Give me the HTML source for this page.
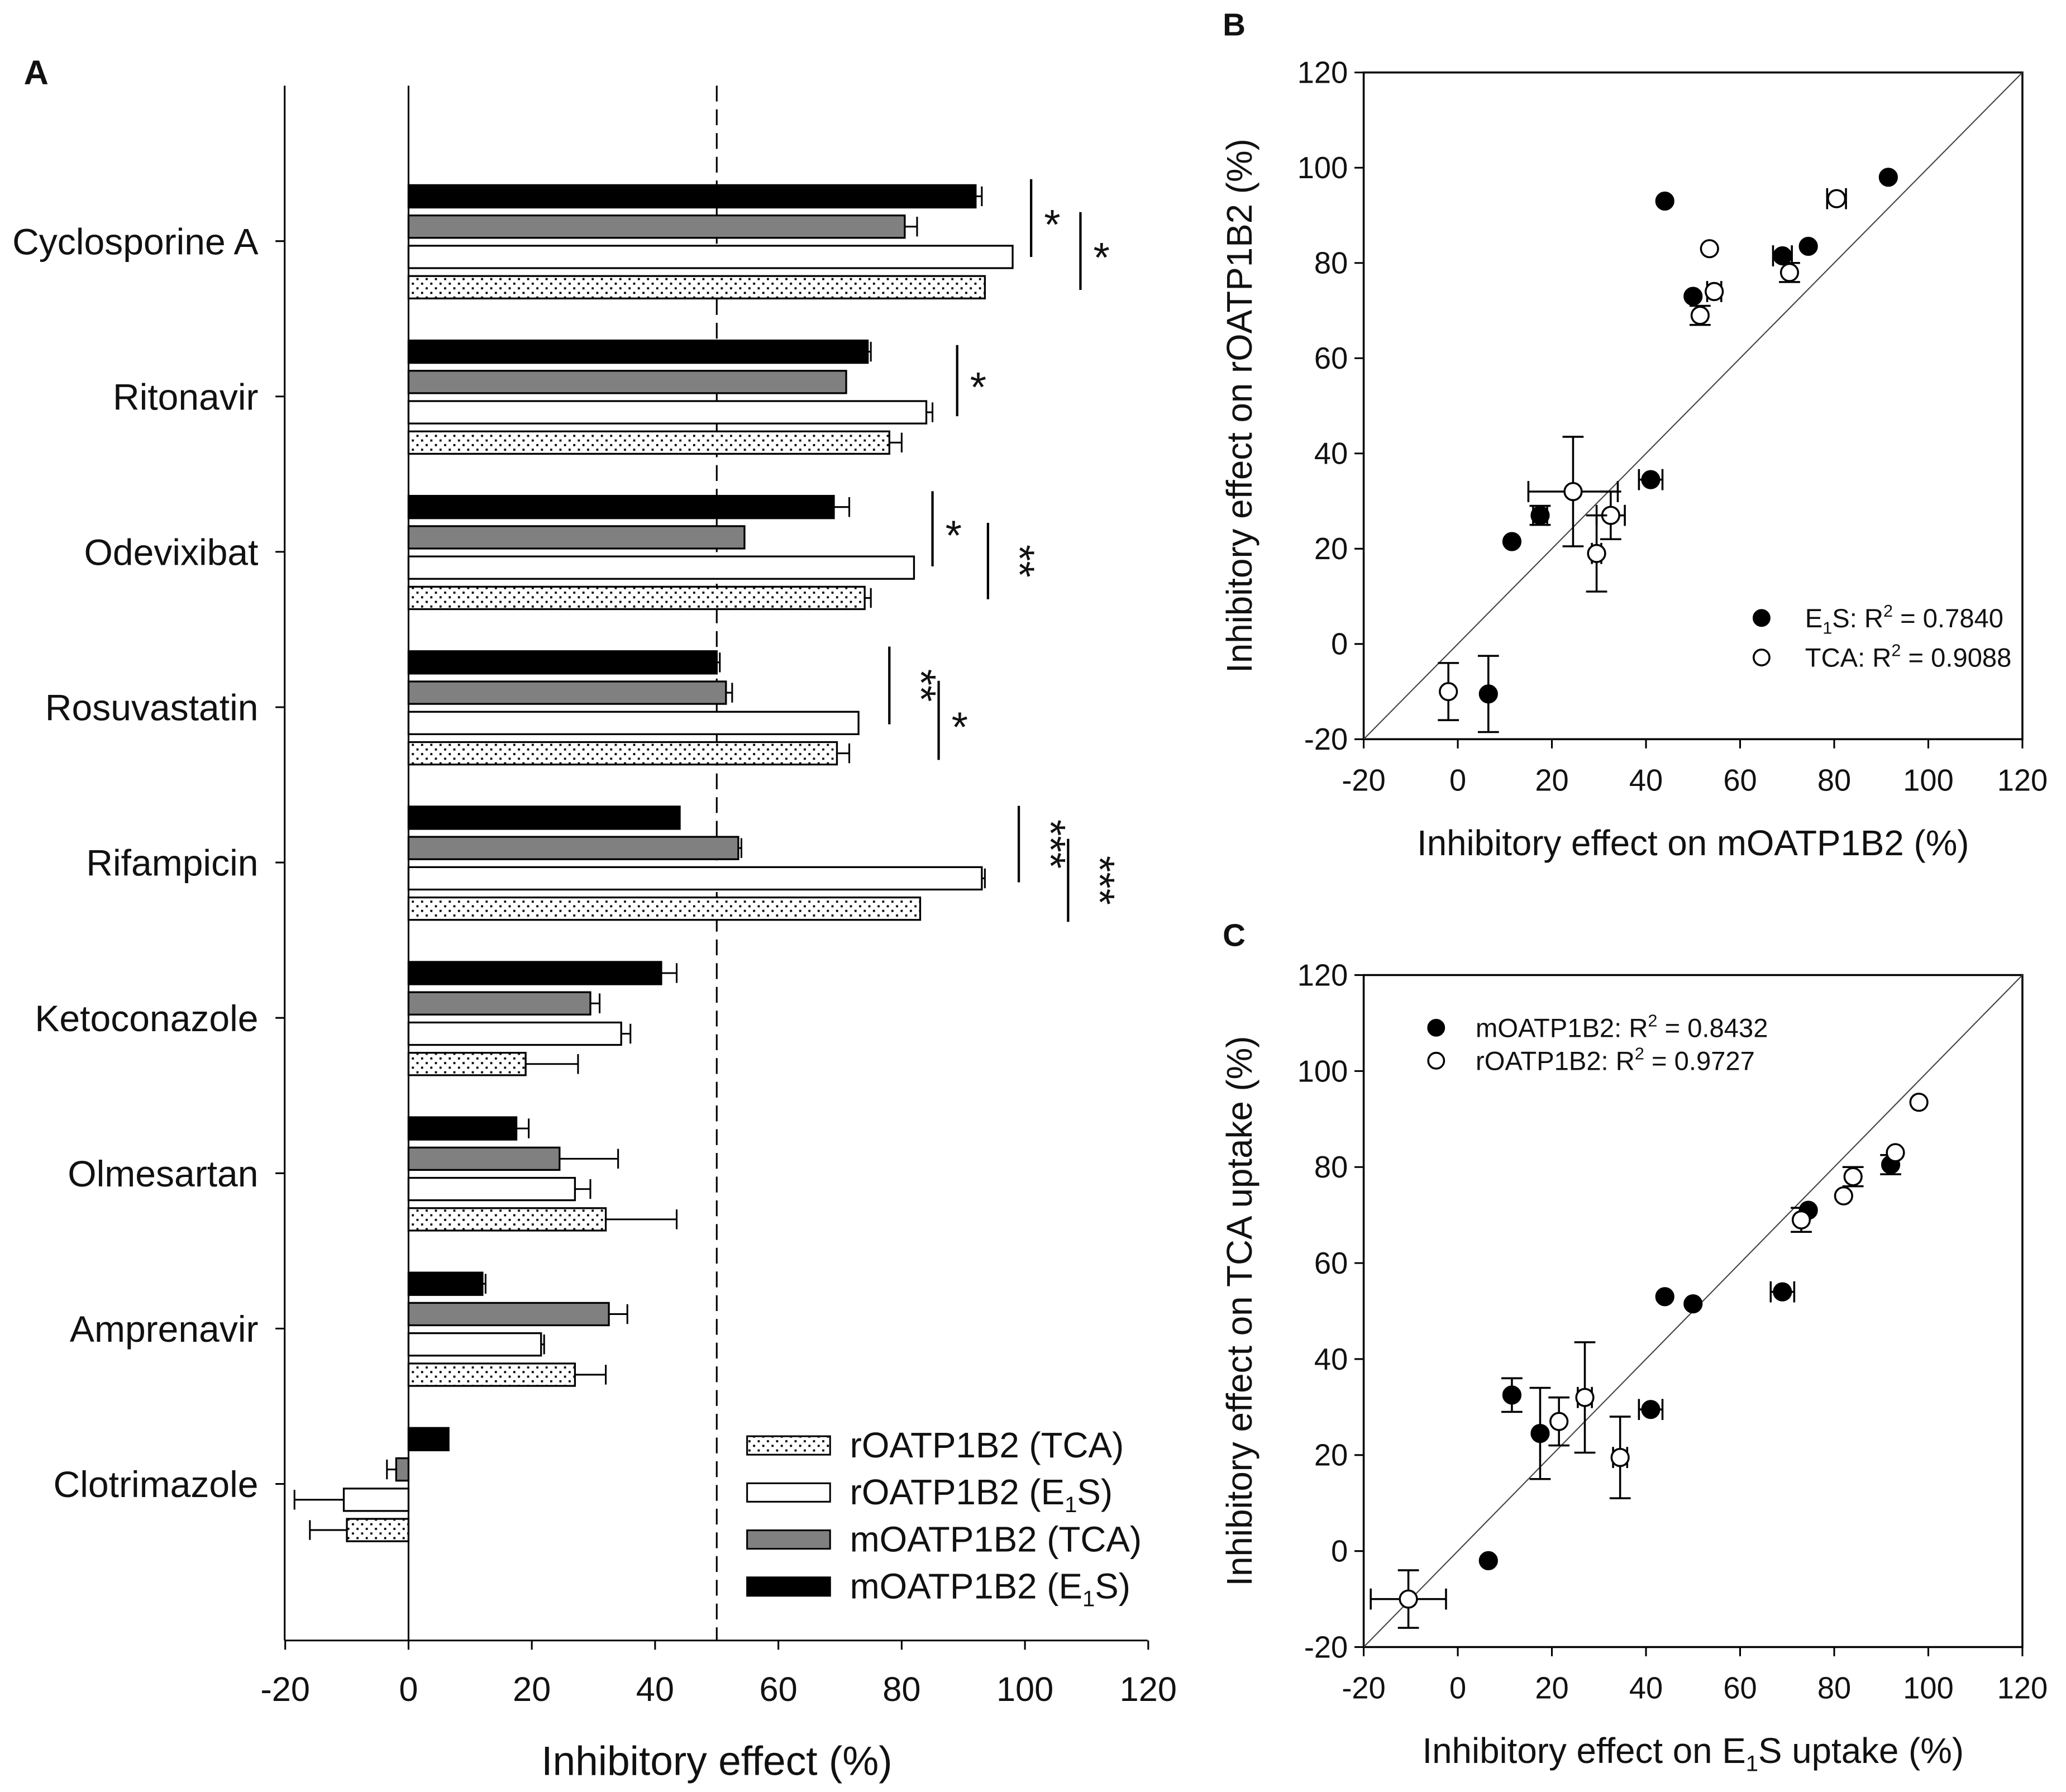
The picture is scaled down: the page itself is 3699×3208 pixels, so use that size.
<!DOCTYPE html>
<html><head><meta charset="utf-8"><style>
html,body{margin:0;padding:0;background:#fff}
svg{display:block}
text{font-family:"Liberation Sans",Arial,sans-serif;fill:#111}
</style></head><body>
<svg id="fig" width="3699" height="3208" viewBox="0 0 1568 1360" xmlns="http://www.w3.org/2000/svg">
<defs>
<pattern id="dots" width="7" height="7" patternUnits="userSpaceOnUse">
<rect width="7" height="7" fill="#fff"/><rect x="1" y="1" width="1.6" height="1.6" fill="#000"/><rect x="4.5" y="4.5" width="1.6" height="1.6" fill="#000"/>
</pattern>
</defs>
<g id="gA"></g>
<g id="gB"></g>
<g id="gC"></g>
</svg>
<script>
// ---- Panel A data ----
const drugs = ["Cyclosporine A","Ritonavir","Odevixibat","Rosuvastatin","Rifampicin","Ketoconazole","Olmesartan","Amprenavir","Clotrimazole"];
const mE1S = [92,74.5,69,50,44,41,17.5,12,6.5];
const mE1Serr = [1,0.5,2.5,0.5,0,2.5,2,0.5,0];
const mTCA = [80.5,71,54.5,51.5,53.5,29.5,24.5,32.5,-2];
const mTCAerr = [2,0,0,1,0.5,1.5,9.5,3,1.5];
const rE1S = [98,84,82,73,93,34.5,27,21.5,-10.5];
const rE1Serr = [0,1,0,0,0.5,1.5,2.5,0.5,8];
const rTCA = [93.5,78,74,69.5,83,19,32,27,-10];
const rTCAerr = [0,2,1,2,0,8.5,11.5,5,6];
const ticksA = [-20,0,20,40,60,80,100,120];
// significance: [drugIndex, x (value units), y0 offset, y1 offset, label, rotated]
const sigs = [[0,101,-47,12,"*",0],[0,109,-22,37,"*",0],[1,89,-39,15,"*",0],[2,85,-46,11,"*",0],[2,94,-22,36,"**",1],[3,78,-46,13,"**",1],[3,86,-20,40,"*",0],[4,99,-43,15,"***",1],[4,107,-18,45,"***",1]];

// ---- Panel B data ----
const bFilledX=[91.5,74.5,69,44,50,41,17.5,11.5,6.5];
const bFilledY=[98,83.5,81.5,93,73,34.5,27,21.5,-10.5];
const bFilledXerr=[0,0,2,0,0,2.5,1.5,0,0];
const bFilledYerr=[0,0,0,0,0,0,2,0,8];
const bOpenX=[80.5,53.5,54.5,70.5,51.5,24.5,32.5,29.5,-2];
const bOpenY=[93.5,83,74,78,69,32,27,19,-10];
const bOpenXerr=[2,0,1.5,0,0,9.5,3,1,0];
const bOpenYerr=[0,0,0,2,2,11.5,5,8,6];
// ---- Panel C data ----
const cFilledX=[92,74.5,69,44,50,41,11.5,17.5,6.5];
const cFilledY=[80.5,71,54,53,51.5,29.5,32.5,24.5,-2];
const cFilledXerr=[0,0,2.5,0,0,2.5,0,0,0];
const cFilledYerr=[2,0,0,0,0,0,3.5,9.5,0];
const cOpenX=[98,93,84,82,73,34.5,27,21.5,-10.5];
const cOpenY=[93.5,83,78,74,69,19.5,32,27,-10];
const cOpenXerr=[0,0,0,0,0,1.5,1.5,0,8];
const cOpenYerr=[0,0,2,0,2.5,8.5,11.5,5,6];
const ticksXY=[-20,0,20,40,60,80,100,120];

const NS="http://www.w3.org/2000/svg";
function el(parent,tag,attrs,txt){const e=document.createElementNS(NS,tag);for(const k in attrs)e.setAttribute(k,attrs[k]);if(txt!==undefined)e.textContent=txt;parent.appendChild(e);return e;}

// Panel A
const gA=document.getElementById('gA');
const xA=v=>310+(v)*4.679;
const catY=i=>183+i*117.9;
let t;
t=el(gA,'text',{x:18,y:64,'font-size':26,'font-weight':'bold'},'A');

t=el(gA,'line',{x1:xA(50),y1:65,x2:xA(50),y2:1245,stroke:'#000','stroke-width':1.3,'stroke-dasharray':'12,6'});

t=el(gA,'line',{x1:xA(0),y1:65,x2:xA(0),y2:1245,stroke:'#000','stroke-width':1.3});

const series=[[mE1S,mE1Serr,'#000',-34,'m-e1s'],[mTCA,mTCAerr,'#808080',-11,'m-tca'],[rE1S,rE1Serr,'#fff',12,'r-e1s'],[rTCA,rTCAerr,'url(#dots)',35,'r-tca']];
drugs.forEach((d,i)=>{
  const cy=catY(i);
  t=el(gA,'text',{x:196,y:cy+10,'font-size':28,'text-anchor':'end'},d);
  
  t=el(gA,'line',{x1:209,y1:cy,x2:216,y2:cy,stroke:'#000','stroke-width':1.3});
  
  series.forEach(s=>{
    const v=s[0][i],e=s[1][i],y=cy+s[3]-8.5;
    const x0=Math.min(xA(0),xA(v)),w=Math.abs(xA(v)-xA(0));
    const b=el(gA,'rect',{x:x0,y:y,width:w,height:17,fill:s[2],stroke:'#000','stroke-width':1.4});
    
    if(e>0){const sign=v<0?-1:1;const xe=xA(v+sign*e);
      const g=el(gA,'path',{d:`M${xA(v)},${y+8.5}H${xe}M${xe},${y+1}V${y+16}`,stroke:'#000','stroke-width':1.3,fill:'none'});
      }
  });
});
sigs.forEach(s=>{
  const cy=catY(s[0]),x=xA(s[1]);
  t=el(gA,'line',{x1:x,y1:cy+s[2],x2:x,y2:cy+s[3],stroke:'#000','stroke-width':1.8});
  
  const my=(cy+s[2]+cy+s[3])/2;
  if(s[5]){t=el(gA,'text',{x:x+13,y:my,'font-size':32,'text-anchor':'middle',transform:`rotate(90 ${x+13} ${my})`},s[4]);}
  else{t=el(gA,'text',{x:x+16,y:my+16,'font-size':32,'text-anchor':'middle'},s[4]);}
  
});
t=el(gA,'line',{x1:216,y1:65,x2:216,y2:1245,stroke:'#000','stroke-width':1.3});

t=el(gA,'line',{x1:216,y1:1245,x2:871,y2:1245,stroke:'#000','stroke-width':1.3});

ticksA.forEach(v=>{
  t=el(gA,'line',{x1:xA(v),y1:1245,x2:xA(v),y2:1252,stroke:'#000','stroke-width':1.3});
  
  t=el(gA,'text',{x:xA(v),y:1291,'font-size':26,'text-anchor':'middle'},v);
  
});
t=el(gA,'text',{x:544,y:1347,'font-size':31,'text-anchor':'middle'},'Inhibitory effect (%)');

const leg=[['url(#dots)','rOATP1B2 (TCA)',''],['#fff','rOATP1B2 (E','S)'],['#808080','mOATP1B2 (TCA)',''],['#000','mOATP1B2 (E','S)']];
leg.forEach((l,i)=>{
  const y=1090+i*35.7;
  t=el(gA,'rect',{x:567,y:y,width:63,height:14,fill:l[0],stroke:'#000','stroke-width':1.3});
  
  const tx=el(gA,'text',{x:645,y:y+16,'font-size':27});
  
  tx.appendChild(document.createTextNode(l[1]));
  if(l[2]){el(tx,'tspan',{'font-size':17,dy:6},'1');el(tx,'tspan',{dy:-6},l[2]);}
});

function scatter(g,letter,ly,top,bottom,xl,ylParts,fx,fy,fxe,fye,ox,oy,oxe,oye,legA,legB,legPos){
  const L=1035,R=1535;
  const X=v=>L+(v+20)/140*(R-L), Y=v=>bottom-(v+20)/140*(bottom-top);
  t=el(g,'text',{x:928,y:ly,'font-size':24,'font-weight':'bold'},letter);
  
  t=el(g,'rect',{x:L,y:top,width:R-L,height:bottom-top,fill:'none',stroke:'#000','stroke-width':1.5});
  
  t=el(g,'line',{x1:X(-20),y1:Y(-20),x2:X(120),y2:Y(120),stroke:'#444','stroke-width':0.9});
  
  ticksXY.forEach(v=>{
    t=el(g,'line',{x1:X(v),y1:bottom,x2:X(v),y2:bottom+7,stroke:'#000','stroke-width':1.3});
    
    t=el(g,'text',{x:X(v),y:bottom+39,'font-size':23,'text-anchor':'middle'},v);
    
    t=el(g,'line',{x1:L-7,y1:Y(v),x2:L,y2:Y(v),stroke:'#000','stroke-width':1.3});
    
    t=el(g,'text',{x:L-12,y:Y(v)+8,'font-size':23,'text-anchor':'end'},v);
    
  });
  const xt=el(g,'text',{x:(L+R)/2,y:bottom+88,'font-size':27,'text-anchor':'middle'});
  
  xl.forEach((p,i)=>{ if(i%2) el(xt,'tspan',{'font-size':17,dy:6},p); else el(xt,'tspan',{dy:i?-6:0},p);});
  const cy=(top+bottom)/2;
  t=el(g,'text',{x:950,y:cy,'font-size':27,'text-anchor':'middle',transform:`rotate(-90 950 ${cy})`},ylParts);
  
  function pts(xs,ys,xe,ye,fill,name){
    xs.forEach((xv,i)=>{
      const px=X(xv),py=Y(ys[i]);
      let d='';
      if(xe[i]>0){const a=X(xv-xe[i]),b=X(xv+xe[i]);d+=`M${a},${py}H${b}M${a},${py-8}V${py+8}M${b},${py-8}V${py+8}`;}
      if(ye[i]>0){const a=Y(ys[i]-ye[i]),b=Y(ys[i]+ye[i]);d+=`M${px},${a}V${b}M${px-8},${a}H${px+8}M${px-8},${b}H${px+8}`;}
      if(d){t=el(g,'path',{d:d,stroke:'#000','stroke-width':1.5,fill:'none'});}
      t=el(g,'circle',{cx:px,cy:py,r:6.5,fill:fill,stroke:'#000','stroke-width':1.5});
      
    });
  }
  pts(fx,fy,fxe,fye,'#000','point-filled');
  pts(ox,oy,oxe,oye,'#fff','point-open');
  [[legA,'#000'],[legB,'#fff']].forEach((lg,i)=>{
    const y=legPos[1]+i*legPos[3];
    t=el(g,'circle',{cx:legPos[0],cy:y,r:6,fill:lg[1],stroke:'#000','stroke-width':1.5});
    
    const tx=el(g,'text',{x:legPos[2],y:y+7,'font-size':20});
    
    lg[0].forEach((p,j)=>{ if(p.sub) el(tx,'tspan',{'font-size':13,dy:p.dy},p.t); else el(tx,'tspan',{dy:p.dy||0},p.t);});
  });
}
scatter(document.getElementById('gB'),'B',27,55,561,['Inhibitory effect on mOATP1B2 (%)'],'Inhibitory effect on rOATP1B2 (%)',
  bFilledX,bFilledY,bFilledXerr,bFilledYerr,bOpenX,bOpenY,bOpenXerr,bOpenYerr,
  [{t:'E'},{t:'1',sub:1,dy:5},{t:'S: R',dy:-5},{t:'2',sub:1,dy:-8},{t:' = 0.7840',dy:8}],
  [{t:'TCA: R'},{t:'2',sub:1,dy:-8},{t:' = 0.9088',dy:8}],[1337,469,1370,30]);
scatter(document.getElementById('gC'),'C',718,740,1250,['Inhibitory effect on E','1','S uptake (%)'],'Inhibitory effect on TCA uptake (%)',
  cFilledX,cFilledY,cFilledXerr,cFilledYerr,cOpenX,cOpenY,cOpenXerr,cOpenYerr,
  [{t:'mOATP1B2: R'},{t:'2',sub:1,dy:-8},{t:' = 0.8432',dy:8}],
  [{t:'rOATP1B2: R'},{t:'2',sub:1,dy:-8},{t:' = 0.9727',dy:8}],[1090,780,1120,25]);
</script>
</body></html>
